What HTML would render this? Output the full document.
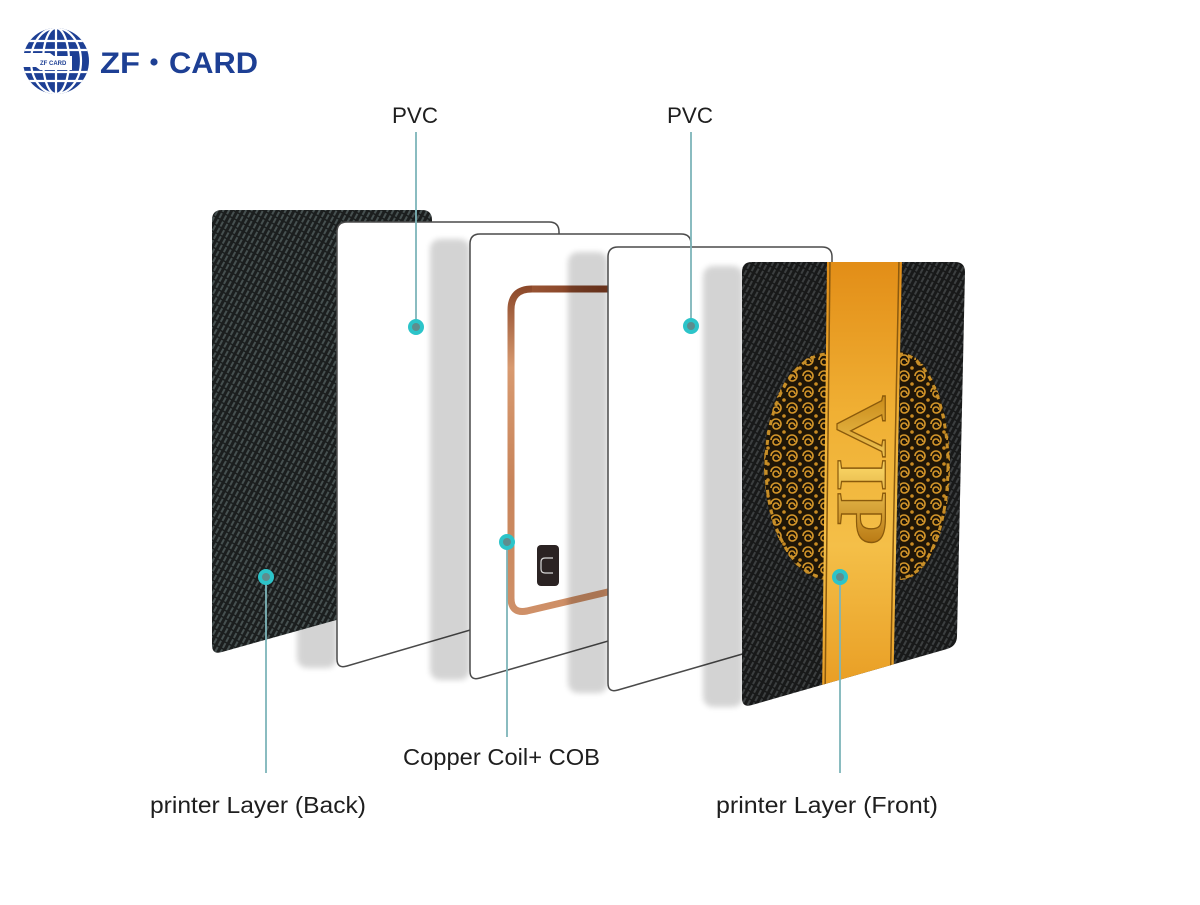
<!DOCTYPE html>
<html><head><meta charset="utf-8"><style>
html,body{margin:0;padding:0;background:#fff;}
svg{display:block;}
text{font-family:"Liberation Sans",Arial,sans-serif;}
</style></head><body>
<svg width="1200" height="905" viewBox="0 0 1200 905" xmlns="http://www.w3.org/2000/svg">
<defs>
  <pattern id="carbon" width="5" height="7" patternUnits="userSpaceOnUse" patternTransform="rotate(28)">
    <rect width="5" height="7" fill="#1b1e1e"/>
    <rect x="0" y="0" width="2" height="5.5" fill="#465050"/>
  </pattern>
  <pattern id="carbon2" width="5" height="7" patternUnits="userSpaceOnUse" patternTransform="rotate(28)">
    <rect width="5" height="7" fill="#181919"/>
    <rect x="0" y="0" width="2" height="5.5" fill="#3c3f40"/>
  </pattern>
  <pattern id="orn" width="16" height="16" patternUnits="userSpaceOnUse">
    <rect width="16" height="16" fill="#1f1608"/>
    <path d="M8,8 m-5,0 a5,5 0 1,1 5,5 a3,3 0 1,1 3,-3" fill="none" stroke="#d4962a" stroke-width="1.6"/>
    <circle cx="0" cy="0" r="1.8" fill="#c88a22"/>
    <circle cx="16" cy="16" r="1.8" fill="#c88a22"/>
    <circle cx="16" cy="0" r="1.8" fill="#c88a22"/>
    <circle cx="0" cy="16" r="1.8" fill="#c88a22"/>
  </pattern>
  <linearGradient id="gold" x1="0" y1="0" x2="0" y2="1">
    <stop offset="0" stop-color="#e28d17"/>
    <stop offset="0.35" stop-color="#f0b034"/>
    <stop offset="0.65" stop-color="#f4bf48"/>
    <stop offset="1" stop-color="#e89b21"/>
  </linearGradient>
  <linearGradient id="goldtxt" x1="0" y1="0" x2="1" y2="0">
    <stop offset="0" stop-color="#c98a18"/>
    <stop offset="0.5" stop-color="#f6d060"/>
    <stop offset="1" stop-color="#b87812"/>
  </linearGradient>
  <linearGradient id="copper" x1="0" y1="285" x2="0" y2="615" gradientUnits="userSpaceOnUse">
    <stop offset="0" stop-color="#8a4628"/>
    <stop offset="0.25" stop-color="#d89a70"/>
    <stop offset="0.6" stop-color="#c8845a"/>
    <stop offset="1" stop-color="#cf9068"/>
  </linearGradient>
  <linearGradient id="coppertop" x1="510" y1="0" x2="610" y2="0" gradientUnits="userSpaceOnUse">
    <stop offset="0" stop-color="#a05a38"/>
    <stop offset="1" stop-color="#7a3a20"/>
  </linearGradient>
  <filter id="blur" x="-30%" y="-10%" width="160%" height="120%">
    <feGaussianBlur stdDeviation="3"/>
  </filter>
  <clipPath id="vipclip">
    <path d="M742,272 Q742,262 752,262 L955,262 Q965,262 965,272 L957,636 Q957,646 947,649 L752,705 Q742,708 742,698 Z"/>
  </clipPath>
  <clipPath id="leftorn"><rect x="740" y="300" width="88" height="320"/></clipPath>
  <clipPath id="rightorn"><rect x="900" y="300" width="70" height="320"/></clipPath>
</defs>

<!-- shadow of PVC1 (behind back card) -->
<rect x="297" y="230" width="40" height="438" rx="10" fill="#000" opacity="0.17" filter="url(#blur)"/>
<!-- Back card -->
<path d="M212,220 Q212,210 222,210 L422,210 Q432,210 432,220 L432,583 Q432,593 422,596 L222,652 Q212,655 212,645 Z" fill="url(#carbon)"/>

<!-- PVC1 -->
<path d="M337,232 Q337,222 347,222 L549,222 Q559,222 559,232 L559,594 Q559,604 549,607 L347,666 Q337,669 337,659 Z" fill="#fff" stroke="#4a4a4a" stroke-width="1.5"/>

<!-- shadow of coil card -->
<rect x="430" y="239" width="40" height="441" rx="10" fill="#000" opacity="0.17" filter="url(#blur)"/>
<!-- Coil card -->
<path d="M470,244 Q470,234 480,234 L681,234 Q691,234 691,244 L691,607 Q691,617 681,620 L480,678 Q470,681 470,671 Z" fill="#fff" stroke="#4a4a4a" stroke-width="1.5"/>
<path d="M612,289 L532,289 Q511,289 511,310 L511,598 Q511,614 527,611 L612,591" fill="none" stroke="url(#copper)" stroke-width="7"/>
<path d="M612,289 L532,289" fill="none" stroke="url(#coppertop)" stroke-width="7"/>
<rect x="537" y="545" width="22" height="41" rx="4" fill="#2b2323"/>
<path d="M553,558 L545,558 Q541,558 541,562 L541,569 Q541,573 545,573 L553,573" fill="none" stroke="#d8d8d8" stroke-width="1.2"/>

<!-- shadow of PVC2 -->
<rect x="568" y="252" width="40" height="441" rx="10" fill="#000" opacity="0.17" filter="url(#blur)"/>
<!-- PVC2 -->
<path d="M608,257 Q608,247 618,247 L822,247 Q832,247 832,257 L832,618 Q832,628 822,631 L618,690 Q608,693 608,683 Z" fill="#fff" stroke="#4a4a4a" stroke-width="1.5"/>

<!-- shadow of VIP -->
<rect x="703" y="266" width="40" height="441" rx="10" fill="#000" opacity="0.17" filter="url(#blur)"/>
<!-- VIP card -->
<g clip-path="url(#vipclip)">
  <rect x="740" y="260" width="230" height="450" fill="url(#carbon2)"/>
  <g clip-path="url(#leftorn)">
    <ellipse cx="828" cy="466" rx="64" ry="114" fill="url(#orn)"/>
    <ellipse cx="828" cy="466" rx="62" ry="112" fill="none" stroke="#c88f28" stroke-width="3" stroke-dasharray="5 5"/>
  </g>
  <g clip-path="url(#rightorn)">
    <ellipse cx="900" cy="466" rx="50" ry="114" fill="url(#orn)"/>
    <ellipse cx="900" cy="466" rx="48" ry="112" fill="none" stroke="#c88f28" stroke-width="3" stroke-dasharray="5 5"/>
  </g>
  <polygon points="827,260 902,260 893,700 822,700" fill="url(#gold)"/>
  <line x1="830" y1="260" x2="825" y2="700" stroke="#8a5a10" stroke-width="1.5"/>
  <line x1="899" y1="260" x2="890" y2="700" stroke="#8a5a10" stroke-width="1.5"/>
  <text transform="translate(838,395) rotate(90)" x="0" y="0" font-weight="bold" font-size="72" textLength="150" lengthAdjust="spacingAndGlyphs" fill="url(#goldtxt)" stroke="#8a5a0c" stroke-width="1.2" style="font-family:'Liberation Serif',serif">VIP</text>
</g>

<!-- connector lines -->
<g stroke="#7db5b9" stroke-width="1.8" fill="none">
  <line x1="416" y1="132" x2="416" y2="327"/>
  <line x1="691" y1="132" x2="691" y2="326"/>
  <line x1="266" y1="577" x2="266" y2="773"/>
  <line x1="507" y1="542" x2="507" y2="737"/>
  <line x1="840" y1="577" x2="840" y2="773"/>
</g>
<!-- dots -->
<g>
  <circle cx="416" cy="327" r="8" fill="#2cc4c9"/><circle cx="416" cy="327" r="4" fill="#5e8d8e"/>
  <circle cx="691" cy="326" r="8" fill="#2cc4c9"/><circle cx="691" cy="326" r="4" fill="#5e8d8e"/>
  <circle cx="266" cy="577" r="8" fill="#2cc4c9"/><circle cx="266" cy="577" r="4" fill="#5e8d8e"/>
  <circle cx="507" cy="542" r="8" fill="#2cc4c9"/><circle cx="507" cy="542" r="4" fill="#5e8d8e"/>
  <circle cx="840" cy="577" r="8" fill="#2cc4c9"/><circle cx="840" cy="577" r="4" fill="#5e8d8e"/>
</g>

<!-- labels -->
<g fill="#1e1e1e" font-size="22">
  <text x="392" y="123" textLength="46" lengthAdjust="spacingAndGlyphs">PVC</text>
  <text x="667" y="123" textLength="46" lengthAdjust="spacingAndGlyphs">PVC</text>
</g>
<g fill="#1e1e1e" font-size="23.5">
  <text x="403" y="765" textLength="197" lengthAdjust="spacingAndGlyphs">Copper Coil+ COB</text>
  <text x="150" y="813" textLength="216" lengthAdjust="spacingAndGlyphs">printer Layer (Back)</text>
  <text x="716" y="813" textLength="222" lengthAdjust="spacingAndGlyphs">printer Layer (Front)</text>
</g>

<!-- logo -->
<defs><clipPath id="globe"><circle cx="56" cy="61" r="33"/></clipPath></defs>
<circle cx="56" cy="61" r="33" fill="#1d3f94"/>
<g clip-path="url(#globe)" stroke="#fff" stroke-width="2.2" fill="none">
  <ellipse cx="56" cy="61" rx="13" ry="33"/>
  <ellipse cx="56" cy="61" rx="25" ry="33"/>
  <line x1="56" y1="28" x2="56" y2="94"/>
  <line x1="20" y1="41" x2="92" y2="41"/>
  <line x1="20" y1="81" x2="92" y2="81"/>
  <line x1="20" y1="50" x2="92" y2="50"/>
  <line x1="20" y1="72" x2="92" y2="72"/>
</g>
<path d="M23,53 L50,53 L54,56 L72,56 L72,70 L40,70 L36,67 L23,67 Z" fill="#fff"/>
<text x="40" y="65" font-size="6" font-weight="bold" fill="#1d3f94">ZF CARD</text>
<g fill="#1d3f94" font-weight="bold" font-size="30">
  <text x="100" y="73" textLength="40" lengthAdjust="spacingAndGlyphs">ZF</text>
  <circle cx="154" cy="62" r="3.6"/>
  <text x="169" y="73" textLength="89" lengthAdjust="spacingAndGlyphs">CARD</text>
</g>
</svg>
</body></html>
